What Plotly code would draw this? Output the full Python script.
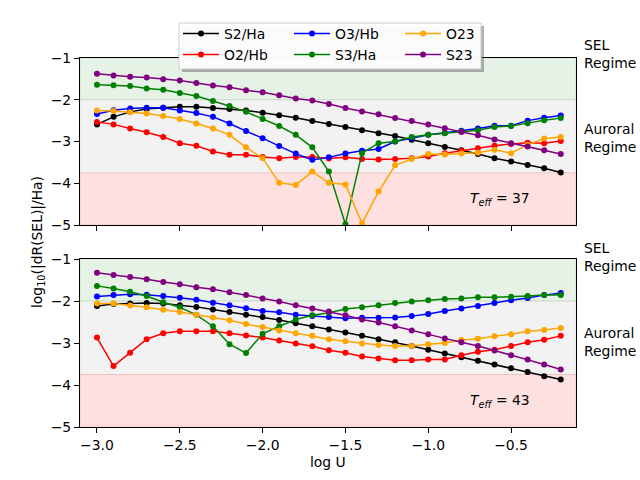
import plotly.graph_objects as go

logU = [-3.0, -2.9, -2.8, -2.7, -2.6, -2.5, -2.4, -2.3, -2.2, -2.1, -2.0, -1.9, -1.8, -1.7, -1.6,
        -1.5, -1.4, -1.3, -1.2, -1.1, -1.0, -0.9, -0.8, -0.7, -0.6, -0.5, -0.4, -0.3, -0.2]

# Top panel (T_eff = 37)
s2ha_37 = [-2.59, -2.41, -2.29, -2.22, -2.19, -2.17, -2.17, -2.20, -2.22, -2.26, -2.31, -2.37, -2.43, -2.51, -2.58,
           -2.65, -2.73, -2.80, -2.87, -2.96, -3.04, -3.13, -3.21, -3.30, -3.40, -3.48, -3.56, -3.64, -3.74]
o2hb_37 = [-2.53, -2.59, -2.69, -2.78, -2.89, -3.04, -3.10, -3.24, -3.32, -3.32, -3.37, -3.40, -3.37, -3.37, -3.41,
           -3.38, -3.42, -3.43, -3.42, -3.40, -3.36, -3.28, -3.22, -3.16, -3.10, -3.06, -3.03, -3.04, -2.99]
o3hb_37 = [-2.34, -2.25, -2.21, -2.19, -2.19, -2.26, -2.32, -2.41, -2.57, -2.75, -2.92, -3.11, -3.29, -3.44, -3.38,
           -3.29, -3.22, -3.18, -3.00, -2.92, -2.84, -2.79, -2.74, -2.69, -2.62, -2.62, -2.50, -2.43, -2.38]
s3ha_37 = [-1.64, -1.65, -1.67, -1.73, -1.76, -1.84, -1.91, -2.03, -2.15, -2.29, -2.46, -2.63, -2.84, -3.14, -3.72,
           -4.98, -3.28, -3.04, -3.00, -2.89, -2.84, -2.80, -2.76, -2.73, -2.65, -2.63, -2.56, -2.49, -2.44]
o23_37 = [-2.26, -2.27, -2.30, -2.33, -2.39, -2.46, -2.57, -2.69, -2.84, -3.14, -3.40, -3.99, -4.04, -3.72, -3.99,
          -4.03, -4.96, -4.20, -3.57, -3.42, -3.30, -3.31, -3.29, -3.27, -3.20, -3.28, -3.08, -2.93, -2.89]
s23_37 = [-1.38, -1.42, -1.45, -1.47, -1.51, -1.54, -1.60, -1.66, -1.70, -1.77, -1.82, -1.89, -1.97, -2.02, -2.10,
          -2.20, -2.28, -2.35, -2.44, -2.51, -2.59, -2.68, -2.77, -2.85, -2.95, -3.04, -3.12, -3.21, -3.30]

# Bottom panel (T_eff = 43)
s2ha_43 = [-2.12, -2.07, -2.06, -2.05, -2.06, -2.10, -2.14, -2.20, -2.26, -2.33, -2.38, -2.45, -2.53, -2.60, -2.68,
           -2.75, -2.83, -2.91, -2.98, -3.07, -3.16, -3.25, -3.34, -3.42, -3.51, -3.60, -3.69, -3.79, -3.87]
o2hb_43 = [-2.87, -3.55, -3.23, -2.91, -2.77, -2.72, -2.72, -2.72, -2.77, -2.82, -2.87, -2.94, -3.01, -3.08, -3.17,
           -3.23, -3.32, -3.37, -3.41, -3.41, -3.39, -3.39, -3.29, -3.21, -3.16, -3.07, -2.98, -2.92, -2.83]
o3hb_43 = [-1.89, -1.86, -1.84, -1.85, -1.88, -1.92, -1.97, -2.04, -2.10, -2.17, -2.24, -2.27, -2.33, -2.36, -2.38,
           -2.41, -2.40, -2.40, -2.39, -2.36, -2.31, -2.24, -2.18, -2.12, -2.05, -1.98, -1.93, -1.86, -1.81]
s3ha_43 = [-1.64, -1.70, -1.78, -1.88, -2.03, -2.15, -2.33, -2.60, -3.03, -3.24, -2.78, -2.60, -2.44, -2.34, -2.28,
           -2.19, -2.15, -2.10, -2.05, -2.01, -1.98, -1.95, -1.94, -1.91, -1.91, -1.90, -1.88, -1.86, -1.86]
o23_43 = [-2.06, -2.06, -2.11, -2.15, -2.21, -2.26, -2.33, -2.39, -2.46, -2.55, -2.62, -2.70, -2.77, -2.83, -2.91,
          -2.96, -3.01, -3.05, -3.07, -3.07, -3.03, -3.00, -2.93, -2.90, -2.84, -2.79, -2.72, -2.69, -2.64]
s23_43 = [-1.33, -1.38, -1.43, -1.48, -1.55, -1.60, -1.67, -1.72, -1.79, -1.86, -1.94, -2.01, -2.10, -2.18, -2.25,
          -2.34, -2.44, -2.51, -2.60, -2.70, -2.79, -2.89, -2.98, -3.07, -3.18, -3.29, -3.39, -3.51, -3.63]

names = ["S2/Ha", "O2/Hb", "O3/Hb", "S3/Ha", "O23", "S23"]
colors = ["black", "red", "blue", "green", "orange", "purple"]
legend_ids = ["legend", "legend", "legend2", "legend2", "legend3", "legend3"]
panels = [
    ("y", [s2ha_37, o2hb_37, o3hb_37, s3ha_37, o23_37, s23_37], "37"),
    ("y2", [s2ha_43, o2hb_43, o3hb_43, s3ha_43, o23_43, s23_43], "43"),
]

FONT = "DejaVu Sans"
FS = 13.9
W, H = 640, 480

fig = go.Figure()
for pi, (yax, series, teff) in enumerate(panels):
    xax = "x" if pi == 0 else "x2"
    for i, vals in enumerate(series):
        fig.add_trace(go.Scatter(
            x=logU, y=vals, mode="lines+markers", name=names[i],
            line=dict(color=colors[i], width=1.5),
            marker=dict(color=colors[i], size=6),
            xaxis=xax, yaxis=yax,
            showlegend=(pi == 0), legend=legend_ids[i],
        ))

xrange_ = [-3.1025, -0.108]
yrange_ = [-5, -1]
axis_common = dict(showline=True, linecolor="black", linewidth=1, mirror=True,
                   ticks="outside", ticklen=5, tickcolor="black", showgrid=False,
                   zeroline=False, tickfont=dict(family=FONT, size=FS, color="black"))
px_x = lambda p: p / W
px_y = lambda p: 1 - p / H

fig.update_layout(
    width=W, height=H, margin=dict(l=0, r=0, t=0, b=0, autoexpand=False),
    paper_bgcolor="white", plot_bgcolor="white",
    font=dict(family=FONT, size=FS, color="black"),
    xaxis=dict(domain=[px_x(80), px_x(576)], range=xrange_, anchor="y",
               tickvals=[-3.0, -2.5, -2.0, -1.5, -1.0, -0.5], showticklabels=False, **axis_common),
    yaxis=dict(domain=[px_y(225), px_y(58)], range=yrange_, anchor="x",
               tickvals=[-1, -2, -3, -4, -5], **axis_common),
    xaxis2=dict(domain=[px_x(80), px_x(576)], range=xrange_, anchor="y2",
                tickvals=[-3.0, -2.5, -2.0, -1.5, -1.0, -0.5], tickformat=".1f", **axis_common),
    yaxis2=dict(domain=[px_y(427), px_y(259)], range=yrange_, anchor="x2",
                tickvals=[-1, -2, -3, -4, -5], **axis_common),
)

legend_common = dict(orientation="v", xanchor="left", yanchor="top", bgcolor="rgba(0,0,0,0)",
                     borderwidth=0, font=dict(family=FONT, size=FS, color="black"),
                     itemwidth=36, tracegroupgap=0)
fig.update_layout(
    legend=dict(x=px_x(178), y=px_y(18), **legend_common),
    legend2=dict(x=px_x(289), y=px_y(18), **legend_common),
    legend3=dict(x=px_x(400), y=px_y(18), **legend_common),
)

shapes = []
# background bands
for yref in ["y", "y2"]:
    for (y0, y1, col) in [(-2, -1, "rgba(0,128,0,0.1)"), (-3.75, -2, "rgba(128,128,128,0.1)"),
                          (-5, -3.75, "rgba(255,0,0,0.12)")]:
        shapes.append(dict(type="rect", xref=("x domain" if yref == "y" else "x2 domain"), yref=yref,
                           x0=0, x1=1, y0=y0, y1=y1, fillcolor=col,
                           line=dict(color=col, width=1), layer="below"))
# legend shadow and frame
shapes.append(dict(type="rect", xref="paper", yref="paper",
                   x0=px_x(182), x1=px_x(484), y0=px_y(72), y1=px_y(26),
                   fillcolor="rgba(100,100,100,0.5)", line=dict(width=0), layer="above"))
shapes.append(dict(type="rect", xref="paper", yref="paper",
                   x0=px_x(179), x1=px_x(481), y0=px_y(69), y1=px_y(23),
                   fillcolor="rgba(255,255,255,0.95)", line=dict(color="#cccccc", width=1), layer="above"))
fig.update_layout(shapes=shapes)

annotations = []
for yref, teff, sel_c, aur_c in [("y", "37", 54, 138), ("y2", "43", 257, 342)]:
    xref = "x" if yref == "y" else "x2"
    annotations.append(dict(x=-0.566, y=-4.38, xref=xref, yref=yref, showarrow=False,
                            text="<i>T</i><sub><i>eff</i></sub> = " + teff,
                            font=dict(family=FONT, size=FS, color="black"),
                            xanchor="center", yanchor="middle"))
    annotations.append(dict(x=px_x(582), y=px_y(sel_c), xref="paper", yref="paper", showarrow=False,
                            text="SEL<br>Regime", align="left", xanchor="left", yanchor="middle",
                            font=dict(family=FONT, size=FS, color="black")))
    annotations.append(dict(x=px_x(582), y=px_y(aur_c), xref="paper", yref="paper", showarrow=False,
                            text="Auroral<br>Regime", align="left", xanchor="left", yanchor="middle",
                            font=dict(family=FONT, size=FS, color="black")))
annotations.append(dict(x=px_x(38), y=px_y(242), xref="paper", yref="paper", showarrow=False,
                        text="log<sub>10</sub>(|dR(SEL)|/Ha)", textangle=-90,
                        xanchor="center", yanchor="middle",
                        font=dict(family=FONT, size=FS, color="black")))
annotations.append(dict(x=px_x(328), y=px_y(462), xref="paper", yref="paper", showarrow=False,
                        text="log U", xanchor="center", yanchor="middle",
                        font=dict(family=FONT, size=FS, color="black")))
fig.update_layout(annotations=annotations)

fig.write_html("out.html")
